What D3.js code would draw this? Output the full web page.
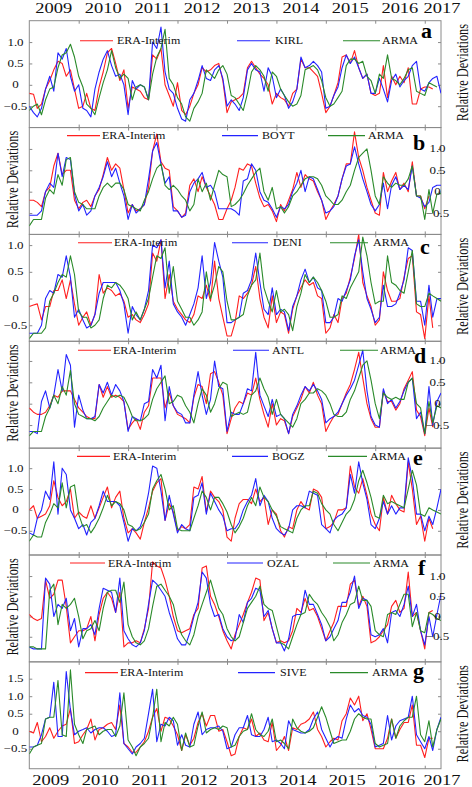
<!DOCTYPE html>
<html><head><meta charset="utf-8">
<script src="https://cdn.jsdelivr.net/npm/d3@7"></script>
<style>body{margin:0;background:#fff}svg{display:block}</style>
</head><body>
<svg id="chart" width="472" height="787"></svg>
<script>
// ---------------- DATA ----------------
const yearLabels = ["2009","2010","2011","2012","2013","2014","2015","2016","2017"];
const stations = ["KIRL","BOYT","DENI","ANTL","BOGZ","OZAL","SIVE"];
const panelLetters = ["a","b","c","d","e","f","g"];
const seriesNames = ["ERA-Interim","station","ARMA"];

const eraA = [-0.20,-0.22,-0.55,-0.45,-0.10,0.10,0.35,0.55,0.50,0.20,0.35,-0.10,
-0.55,-0.50,-0.20,-0.55,-0.60,-0.05,0.30,0.75,0.85,0.50,0.10,0.35,
-0.55,-0.05,-0.10,-0.15,-0.30,-0.35,0.70,0.60,0.85,0.00,-0.25,-0.50,
0.05,-0.60,-0.70,-0.50,-0.20,0.00,0.40,0.30,0.35,0.45,0.50,0.10,
-0.65,-0.40,-0.35,-0.30,-0.20,0.40,0.55,0.40,0.25,0.15,0.00,-0.45,
-0.20,-0.30,-0.35,-0.50,-0.20,-0.10,0.60,0.40,0.40,0.30,0.20,-0.20,
-0.65,-0.50,-0.25,0.05,0.65,0.70,0.50,0.80,0.40,0.15,0.25,-0.20,
-0.25,-0.20,0.45,-0.30,0.20,0.00,0.20,0.05,0.40,-0.45,-0.45,-0.10,
-0.05,-0.05,-0.10];
const kirl = [-0.50,-0.65,-0.75,-0.55,-0.10,0.20,-0.15,0.75,0.60,0.85,0.20,-0.15,
0.00,-0.55,-0.60,-0.75,-0.10,0.30,0.60,0.80,0.45,0.20,0.25,0.00,
-0.70,0.10,-0.10,0.00,-0.05,-0.35,1.00,0.85,1.35,0.30,-0.10,-0.20,
-0.55,-0.80,-0.85,-0.35,-0.20,0.10,0.45,0.15,0.10,0.35,0.45,0.15,
-0.50,-0.35,-0.45,-0.60,-0.30,0.35,0.50,0.35,0.30,-0.15,0.40,0.20,
-0.30,-0.10,-0.25,-0.55,-0.40,-0.10,0.65,0.40,0.45,0.55,0.45,0.30,
-0.55,-0.50,-0.25,-0.05,0.40,0.70,0.50,0.65,0.40,0.15,0.25,-0.20,
-0.20,0.15,-0.10,-0.40,0.10,0.25,-0.05,0.10,0.20,0.45,0.55,-0.10,
-0.15,0.05,0.15,0.20,-0.20];
const armaA = [-0.60,-0.50,-0.45,-0.70,-0.35,-0.10,-0.05,0.40,0.70,0.75,0.95,0.65,
0.20,-0.05,-0.45,-0.55,-0.70,-0.30,0.05,0.35,0.80,0.40,0.15,0.25,
0.15,-0.35,-0.05,0.00,-0.05,-0.35,0.25,0.65,0.85,1.30,0.15,0.00,
-0.30,-0.45,-0.75,-0.85,-0.55,-0.40,-0.20,0.35,0.25,0.15,0.35,0.45,
0.25,-0.25,-0.30,-0.45,-0.60,-0.20,0.30,0.45,0.35,0.20,-0.15,0.30,
0.20,-0.10,-0.25,-0.40,-0.50,-0.45,-0.25,0.35,0.40,0.45,0.35,0.10,
-0.30,-0.50,-0.45,-0.30,-0.15,0.45,0.60,0.60,0.50,0.55,0.20,0.10,
-0.20,0.25,0.15,0.70,0.15,0.10,0.00,0.15,0.35,0.40,-0.15,-0.20,
-0.25,0.05,0.00,-0.05];

const eraB = [-0.20,-0.20,-0.25,-0.35,0.00,0.10,0.60,0.90,0.40,0.50,0.50,-0.20,
-0.40,-0.25,-0.20,-0.35,-0.10,0.05,0.40,0.80,0.50,0.65,0.55,0.05,
-0.50,-0.30,-0.45,-0.40,-0.30,0.10,0.95,1.35,0.70,0.55,0.50,-0.35,
-0.45,-0.60,-0.50,0.15,0.30,0.00,0.35,0.10,-0.10,-0.30,-0.65,-0.65,
-0.40,-0.20,0.10,0.55,0.50,0.65,0.60,0.20,-0.15,-0.35,-0.30,-0.45,
-0.70,-0.30,-0.45,-0.20,0.05,0.45,0.10,0.40,0.30,0.25,0.00,-0.20,
-0.65,-0.45,-0.30,-0.10,0.30,0.65,0.65,1.40,0.80,0.50,0.10,-0.20,
-0.50,-0.55,0.45,0.00,0.25,0.45,0.05,0.20,0.00,0.70,-0.10,-0.10,
-0.40,-0.10];
const boyt = [-0.55,-0.55,-0.55,-0.45,0.00,0.20,0.10,0.90,0.35,0.80,0.75,-0.05,
-0.45,-0.30,-0.55,-0.45,-0.10,0.10,0.35,0.70,0.35,0.55,0.20,-0.10,
-0.65,-0.30,-0.50,-0.40,-0.30,0.30,0.95,1.15,0.65,0.20,0.35,-0.45,
-0.45,-0.60,-0.55,0.00,0.20,0.30,0.45,0.10,0.15,0.00,-0.40,-0.40,
-0.40,-0.40,-0.45,-0.55,0.25,0.30,0.65,0.50,0.00,-0.20,-0.25,-0.40,
-0.60,-0.35,-0.40,-0.30,0.00,0.20,0.50,0.00,0.35,0.30,0.05,-0.20,
-0.50,-0.45,-0.35,-0.10,0.30,0.60,0.65,1.05,0.65,0.30,0.00,-0.30,
-0.45,-0.30,0.20,-0.40,0.15,0.35,0.05,0.15,0.05,0.60,-0.10,-0.15,
-0.35,-0.25,0.10,0.15,0.15];
const armaB = [-0.80,-0.65,-0.65,-0.65,-0.15,0.05,-0.05,0.40,0.15,0.75,0.80,0.00,
-0.25,-0.30,-0.40,-0.40,-0.40,-0.10,0.10,0.20,0.10,0.20,0.20,0.05,
-0.30,-0.35,-0.40,-0.45,-0.20,0.00,0.30,0.55,0.65,0.15,0.05,0.15,
0.05,-0.10,-0.20,-0.45,-0.30,0.30,0.00,0.20,-0.20,0.15,0.50,0.40,
0.35,-0.35,-0.30,-0.20,-0.05,0.15,0.30,0.45,0.55,0.00,-0.20,0.10,
-0.40,-0.35,-0.50,-0.35,-0.10,0.00,0.15,0.30,0.35,0.35,0.30,0.15,
-0.10,-0.20,-0.30,-0.30,-0.20,0.00,0.15,0.50,0.80,0.90,1.00,0.50,
-0.10,-0.30,0.35,0.20,0.10,0.20,0.15,0.15,0.30,0.60,-0.10,-0.10,
-0.65,0.05,-0.50,-0.05,-0.05];

const eraC = [-0.15,-0.12,-0.10,-0.40,-0.15,-0.15,0.15,0.15,0.35,0.00,0.35,-0.10,
-0.50,-0.35,-0.25,-0.50,-0.30,0.45,0.10,0.20,0.15,0.05,0.10,-0.05,
-0.35,-0.30,-0.40,-0.45,-0.30,-0.10,0.85,0.70,1.10,0.00,0.45,-0.05,
-0.20,-0.30,-0.40,-0.45,-0.30,0.05,0.00,0.25,-0.05,0.70,0.00,-0.35,
-0.70,-0.70,-0.45,0.05,0.00,0.10,0.25,0.60,0.00,-0.35,-0.55,0.05,
-0.45,-0.25,-0.30,-0.65,-0.20,0.05,0.20,0.35,0.25,0.30,0.05,0.00,
-0.65,-0.55,-0.30,-0.45,0.00,0.10,0.40,0.75,1.20,0.30,0.05,-0.15,
-0.50,-0.40,0.50,0.15,-0.05,-0.05,0.00,0.40,0.75,0.80,-0.25,-0.30,
-0.75,0.05,-0.55];
const deni = [-0.65,-0.65,-0.65,-0.50,0.00,0.15,0.10,0.45,0.40,0.80,0.40,-0.35,
-0.20,-0.40,-0.55,-0.50,-0.30,0.10,0.30,0.30,0.30,0.30,0.15,-0.10,
-0.65,-0.15,-0.30,-0.40,-0.20,0.15,1.00,0.95,1.10,0.20,0.70,-0.10,
-0.25,-0.35,-0.50,-0.30,-0.10,0.20,0.80,0.00,0.30,1.05,0.70,0.40,
-0.45,-0.45,-0.40,-0.35,0.10,0.15,0.35,0.85,0.30,-0.20,-0.30,0.20,
-0.30,-0.20,-0.25,-0.60,-0.15,0.05,0.35,0.55,0.30,0.40,0.20,0.15,
-0.45,-0.45,-0.35,0.00,-0.05,0.15,0.35,0.80,1.10,0.50,0.00,-0.20,
-0.45,-0.35,0.25,-0.15,-0.15,-0.10,0.10,0.35,0.95,0.90,-0.05,-0.05,
-0.50,0.25,-0.35,0.00,0.00];
const armaC = [-0.75,-0.65,-0.65,-0.65,-0.55,-0.05,0.10,0.30,0.45,0.40,0.80,0.45,
-0.25,-0.35,-0.35,-0.55,-0.50,-0.40,0.00,0.25,0.20,0.30,0.25,0.15,
0.00,-0.40,-0.25,-0.40,-0.20,0.00,0.40,0.80,0.75,0.95,0.10,0.60,
-0.05,-0.20,-0.35,-0.35,-0.50,-0.40,-0.25,0.50,0.00,0.25,0.60,0.50,
-0.05,-0.40,-0.40,-0.35,-0.30,0.05,0.25,0.35,0.85,0.20,-0.05,-0.25,
0.15,-0.25,-0.20,-0.30,-0.60,-0.15,0.10,0.45,0.30,0.40,0.30,0.15,
-0.05,-0.35,-0.35,-0.30,0.05,0.00,0.20,0.35,0.50,1.15,0.80,0.30,
-0.10,-0.05,-0.05,0.80,0.30,0.25,0.15,0.10,0.50,0.90,-0.10,-0.15,
-0.15,0.10,0.05,0.00,-0.05];

const eraD = [-0.10,-0.20,-0.25,-0.25,-0.20,-0.05,0.20,0.15,0.30,0.30,0.30,0.10,
-0.10,-0.20,-0.30,-0.35,-0.35,0.45,0.15,0.40,0.15,0.20,0.15,0.05,
-0.60,-0.45,-0.35,-0.60,-0.20,-0.05,0.60,0.60,0.60,-0.10,0.25,-0.05,
-0.25,-0.30,-0.35,-0.45,0.15,0.45,0.40,0.00,0.70,0.75,0.50,0.20,
-0.70,-0.35,-0.10,0.05,0.00,0.25,0.20,0.60,0.10,-0.25,-0.55,0.00,
-0.50,-0.35,-0.40,-0.70,-0.30,-0.10,0.10,0.40,0.25,0.50,0.20,0.00,
-0.65,-0.45,-0.30,-0.25,0.00,0.25,0.45,0.80,1.20,0.60,0.00,-0.35,
-0.55,-0.55,0.30,0.05,0.05,-0.15,0.00,0.35,0.55,0.75,-0.15,-0.30,
-0.75,-0.10,-0.55];
const antl = [-0.65,-0.65,-0.70,0.05,0.30,-0.10,0.20,0.80,0.30,1.15,0.90,-0.55,
0.20,-0.15,-0.35,-0.35,-0.30,0.45,0.25,0.50,0.20,0.45,0.30,0.05,
-0.65,-0.30,-0.35,-0.40,0.00,0.05,0.80,0.60,0.90,-0.40,0.40,-0.05,
-0.20,-0.25,-0.45,-0.45,0.20,0.75,0.20,-0.25,0.10,1.00,0.40,0.35,
-0.65,-0.20,-0.25,-0.25,0.00,0.35,0.30,1.20,0.20,-0.05,-0.30,0.10,
-0.30,-0.25,-0.35,-0.70,-0.25,-0.05,0.20,0.40,0.30,0.45,0.30,0.10,
-0.45,-0.35,-0.30,-0.20,0.00,0.20,0.35,0.55,0.90,1.25,0.30,-0.30,
-0.50,-0.55,0.35,0.00,0.10,-0.10,0.05,0.30,0.50,0.60,-0.35,-0.20,
-0.70,0.40,-0.50,0.05,0.25];
const armaD = [-0.75,-0.65,-0.65,-0.65,-0.30,-0.10,0.20,0.00,0.40,0.20,0.78,0.00,
-0.25,-0.30,-0.35,-0.35,-0.40,-0.30,-0.10,0.05,0.20,0.15,0.20,0.15,
-0.05,-0.30,-0.40,-0.40,-0.35,-0.25,0.10,0.35,0.50,0.65,0.00,0.05,
0.20,0.15,-0.05,-0.20,-0.45,0.00,0.35,0.20,-0.20,0.00,0.35,0.50,
0.45,-0.30,-0.25,-0.20,-0.25,-0.20,0.20,0.30,0.60,0.35,0.15,-0.25,
0.10,-0.25,-0.35,-0.45,-0.55,-0.35,0.00,0.10,0.25,0.25,0.35,0.30,
0.20,0.00,-0.25,-0.30,-0.30,-0.20,0.10,0.30,0.60,0.90,1.00,0.55,
0.00,-0.35,0.25,0.15,0.10,0.15,0.10,0.10,0.50,0.60,0.00,-0.10,
-0.70,0.05,-0.45,-0.05,-0.10];

const eraE = [0.00,0.10,-0.20,-0.15,-0.10,0.10,0.70,0.30,0.10,0.20,0.50,-0.20,
-0.05,-0.15,-0.20,0.10,-0.20,0.05,0.30,0.55,0.05,0.30,0.45,-0.20,
-0.55,-0.45,-0.55,-0.70,-0.30,0.05,0.45,0.65,0.75,-0.25,0.15,-0.05,
-0.50,-0.40,-0.45,-0.35,0.55,0.50,0.80,-0.05,0.45,0.30,0.20,0.00,
-0.65,-0.75,-0.20,0.15,0.25,0.25,0.15,0.50,0.20,0.30,-0.35,0.00,
-0.10,-0.50,-0.65,-0.40,-0.45,0.00,0.20,0.05,0.00,0.50,0.45,0.30,
-0.45,-0.40,-0.30,0.00,0.00,0.05,1.05,0.55,0.40,0.75,0.35,-0.10,
-0.35,-0.50,0.30,-0.10,0.35,0.15,0.00,-0.05,1.15,0.50,-0.35,-0.15,
-0.75,-0.20,-0.45];
const bogz = [-0.55,-0.60,-0.20,0.00,0.45,0.25,1.15,-0.10,1.00,0.85,0.00,-0.20,
-0.45,-0.35,-0.60,-0.30,-0.20,0.10,0.45,0.20,0.20,0.20,0.10,-0.30,
-0.75,-0.45,-0.50,-0.40,-0.10,0.40,1.05,1.00,0.45,-0.25,0.35,-0.10,
-0.55,-0.35,-0.45,-0.50,0.30,0.35,0.65,-0.10,0.40,0.20,0.00,-0.15,
-0.50,-0.45,-0.45,-0.30,0.00,0.20,0.35,0.75,0.10,0.35,0.20,-0.20,
-0.45,-0.55,-0.60,-0.45,0.00,0.10,0.10,0.05,0.45,0.40,0.35,-0.35,
-0.45,-0.55,-0.25,-0.15,-0.10,0.05,0.85,0.40,1.15,0.65,0.25,-0.35,
-0.45,-0.20,0.20,-0.10,0.10,-0.10,0.05,0.05,1.25,0.75,-0.10,-0.10,
-0.50,-0.15,-0.35,0.05,0.50];
const armaE = [-0.75,-0.60,-0.65,-0.65,-0.30,-0.10,0.15,0.05,0.65,0.05,0.55,0.60,
-0.10,-0.40,-0.35,-0.55,-0.40,-0.20,0.05,0.35,0.10,0.20,0.15,0.00,
-0.35,-0.40,-0.50,-0.45,-0.30,-0.10,0.50,0.70,0.85,0.50,0.00,0.10,
-0.45,-0.50,-0.50,-0.50,-0.20,0.10,0.45,0.30,0.00,0.30,0.30,0.15,
-0.05,-0.35,-0.55,-0.40,-0.20,0.10,0.30,0.10,0.55,0.30,0.20,0.00,
-0.15,-0.40,-0.45,-0.50,-0.55,-0.20,0.00,0.10,0.10,0.45,0.40,0.15,
0.00,-0.10,-0.35,-0.50,-0.30,-0.10,0.00,0.25,0.70,0.95,0.65,0.30,
-0.15,-0.20,0.35,0.15,0.20,0.15,0.10,0.05,0.50,0.95,0.60,-0.10,
-0.15,0.05,0.00,-0.05,-0.10];

const eraF = [0.05,-0.05,-0.10,-0.05,0.90,0.45,0.55,0.90,0.90,0.25,-0.65,-0.50,
-0.35,-0.35,-0.30,0.00,-0.60,0.05,0.45,0.60,0.45,0.10,0.60,-0.75,
-0.65,-0.65,-0.60,-0.65,-0.30,0.20,1.35,1.25,1.20,0.90,0.50,0.00,
-0.35,-0.40,-0.35,-0.30,0.05,0.20,1.20,1.25,0.50,0.30,0.00,-0.35,
-0.60,-0.80,-0.45,-0.20,0.05,0.35,0.60,0.95,0.90,-0.10,0.10,-0.30,
-0.65,-0.60,-0.65,-0.60,-0.35,0.20,0.10,0.45,0.15,0.20,0.00,-0.30,
-0.60,-0.35,-0.15,0.25,0.25,0.25,0.80,0.90,0.25,0.50,0.25,-0.65,
-0.60,-0.50,-0.35,-0.20,0.25,0.40,0.10,0.20,1.10,0.00,0.10,-0.35,
-0.80,0.10,0.15];
const ozal = [-0.75,-0.80,-0.80,-0.80,0.95,0.80,0.00,0.30,0.20,0.45,-0.35,-0.05,
-0.75,-0.30,-0.30,-0.20,-0.45,0.20,0.70,0.65,0.60,0.10,0.95,-0.35,
-0.55,-0.70,-0.75,-0.65,-0.35,0.30,0.90,0.80,0.65,0.50,0.10,-0.20,
-0.55,-0.70,-0.70,-0.40,0.00,0.35,1.10,0.95,0.30,0.00,0.05,-0.30,
-0.50,-0.60,-0.55,0.05,-0.15,0.35,0.45,0.70,0.65,0.00,0.15,-0.30,
-0.65,-0.65,-0.85,-0.55,0.00,0.05,0.05,0.65,0.30,0.30,0.05,-0.20,
-0.60,-0.50,-0.30,-0.10,0.35,0.35,0.60,1.00,0.20,0.45,0.40,-0.45,
-0.50,-0.45,-0.30,-0.65,0.10,0.15,0.00,0.30,0.75,0.00,0.30,-0.35,
-0.70,0.00,-0.50,0.05,0.55];
const armaF = [-0.75,-0.75,-0.80,-0.80,-0.80,0.65,0.80,-0.20,0.30,0.20,0.30,0.45,
0.00,-0.55,-0.35,-0.30,-0.10,-0.35,0.20,0.60,0.65,0.65,0.35,0.85,
-0.20,-0.50,-0.65,-0.70,-0.60,-0.30,0.25,0.75,0.80,0.65,0.50,0.30,
-0.15,-0.45,-0.60,-0.70,-0.45,0.00,0.30,0.60,0.90,0.55,0.20,0.05,
-0.30,-0.50,-0.60,-0.50,-0.15,0.20,0.35,0.50,0.75,0.30,0.20,0.15,
-0.25,-0.65,-0.70,-0.80,-0.50,-0.20,0.05,0.10,0.55,0.40,0.30,0.10,
-0.05,-0.25,-0.60,-0.45,-0.15,0.05,0.30,0.35,0.75,0.40,0.40,0.25,
-0.35,-0.45,-0.50,0.05,0.10,0.05,0.30,0.55,0.55,-0.25,0.10,-0.35,
-0.40,0.10,0.05,-0.05,-0.10];

const eraG = [0.00,-0.05,0.25,-0.30,-0.15,0.10,-0.20,0.00,0.15,0.20,0.65,-0.35,
-0.30,-0.10,0.05,0.35,-0.25,0.05,0.10,0.20,0.25,0.05,0.75,-0.35,
-0.45,-0.60,-0.60,-0.45,-0.30,0.00,0.40,0.65,0.00,0.40,0.35,0.15,
-0.10,-0.55,-0.10,-0.40,-0.20,0.25,0.50,0.15,0.45,0.45,0.00,0.05,
-0.30,-0.70,-0.65,-0.15,0.10,0.05,0.35,-0.15,-0.05,-0.25,-0.30,0.25,
-0.55,-0.40,-0.15,-0.55,0.10,0.05,0.20,0.25,0.35,0.55,0.05,-0.15,
-0.45,-0.30,-0.20,-0.25,0.30,0.50,0.95,0.75,1.00,0.30,0.50,0.05,
-0.50,-0.50,-0.50,-0.20,0.35,-0.20,0.05,0.25,0.25,0.75,-0.40,-0.40,
-0.75,-0.20,-0.20];
const sive = [-0.45,-0.45,-0.40,-0.10,0.35,0.40,1.40,-0.15,-0.15,1.70,0.60,-0.10,
0.00,0.05,0.10,-0.05,0.05,0.10,0.10,0.00,-0.15,-0.10,1.10,-0.35,
-0.50,-0.65,-0.45,-0.35,-0.20,0.50,1.20,-0.30,0.20,0.15,0.40,0.30,
-0.40,-0.10,-0.40,-0.45,0.20,0.55,-0.10,0.05,0.10,0.10,0.15,0.00,
-0.50,-0.45,-0.10,0.10,0.10,0.45,-0.10,-0.15,-0.15,0.05,0.40,-0.30,
-0.25,-0.35,-0.50,0.30,0.05,0.00,-0.05,-0.05,0.05,0.35,0.55,0.05,
-0.20,-0.45,-0.25,-0.15,-0.20,0.35,0.75,0.55,0.65,0.45,0.40,0.20,
-0.45,-0.40,-0.35,0.45,-0.25,0.15,0.30,0.35,0.40,1.00,-0.10,-0.30,
-0.50,-0.15,-0.55,0.05,0.40];
const armaG = [-0.65,-0.45,-0.40,-0.35,0.35,0.40,0.40,1.45,-0.10,-0.15,1.75,0.20,
-0.10,-0.35,0.05,0.10,0.15,-0.10,0.00,0.05,0.05,-0.15,0.15,1.10,
-0.25,-0.45,-0.70,-0.45,-0.35,-0.20,0.40,1.20,-0.30,0.25,0.15,0.40,
0.20,-0.55,-0.05,-0.45,-0.40,0.15,0.55,-0.05,0.05,0.10,0.05,0.15,
0.10,-0.45,-0.40,-0.15,0.00,0.05,0.50,0.05,-0.10,-0.15,0.00,0.35,
-0.30,-0.25,-0.35,-0.50,0.35,0.10,0.00,-0.05,0.00,0.10,0.40,0.70,
0.40,0.00,-0.35,-0.30,-0.25,-0.25,0.00,0.35,0.50,0.40,0.35,0.35,
-0.35,-0.45,-0.40,-0.35,0.35,-0.20,0.15,0.30,0.40,0.40,1.00,-0.10,
-0.30,0.30,-0.45,0.05,0.35];

const yDomains = [[-1,1.5],[-1,1.5],[-0.8,1.2],[-1.04,1.46],[-1.08,1.48],[-1.12,1.52],[-1.07,1.98]];
const yTickValues = [[-0.5,0,0.5,1],[-0.5,0,0.5,1],[-0.5,0,0.5,1],[-0.5,0,0.5,1],[-0.5,0,0.5,1],[-0.5,0,0.5,1],[-0.5,0,0.5,1,1.5]];
const panelSeries = [[eraA,kirl,armaA],[eraB,boyt,armaB],[eraC,deni,armaC],[eraD,antl,armaD],[eraE,bogz,armaE],[eraF,ozal,armaF],[eraG,sive,armaG]];

// ---------------- LAYOUT / STYLE ----------------
const W = 472, H = 787;
const X0 = 29.3, X1 = 441, TOP = 20.7, PH = 106.86;
const FONT = "'Liberation Serif','Times New Roman',Times,serif";
const COLORS = ["#ff1f1f","#2323ff","#2a8a2a"];
const BORDER = "#8a8a8a";
// legend layout per panel: [lineY offset, redX1, redX2, redTx, bX1, bX2, bTx, gX1, gX2, gTx, letterX, letterBase]
const LEG = [
 [20.0, 80,113,117, 237,270,275, 343,380,382, 421,17.3],
 [8.1, 67,100,102, 222,258,262, 328,365,368, 413,22.4],
 [8.3, 78,112,114, 232,268,273, 330,368,373, 420,19.6],
 [9.0, 78,111,113, 233,269,272, 340,378,380, 414,21.4],
 [8.2, 77,110,113, 232,268,272, 328,367,370, 413,16.6],
 [8.0, 70,105,108, 227,263,267, 333,370,373, 418,19.7],
 [10.8,85,118,120, 238,275,280, 330,368,372, 413,16.1]
];

const svg = d3.select("#chart");
svg.append("rect").attr("width",W).attr("height",H).attr("fill","#fff");
const start = new Date(2009,0,1);
const dateOf = i => d3.timeMonth.offset(start, i);
const x = d3.scaleTime().domain([start, dateOf(100)]).range([X0, X1]);
const yearTicks = d3.timeYear.range(new Date(2010,0,1), new Date(2017,0,2));

function stretchedText(parent, txt, tx, ty, size, sx, anchor, opts={}) {
  const t = parent.append("text")
    .attr("transform", `translate(${tx},${ty}) scale(${sx},1)` + (opts.rotate ? ` rotate(${opts.rotate})` : ""))
    .attr("text-anchor", anchor)
    .attr("font-family", FONT)
    .attr("font-size", size)
    .attr("fill", opts.fill || "#111")
    .text(txt);
  if (opts.bold) t.attr("font-weight","bold");
  if (opts.dy) t.attr("dy", opts.dy);
  return t;
}

const defs = svg.append("defs");

panelSeries.forEach((series, k) => {
  const top = TOP + k*PH, bot = top + PH;
  const y = d3.scaleLinear().domain(yDomains[k]).range([bot, top]);
  const g = svg.append("g");
  defs.append("clipPath").attr("id","clip"+k).append("rect")
    .attr("x",X0).attr("y",top).attr("width",X1-X0).attr("height",PH);

  g.append("rect").attr("x",X0).attr("y",top).attr("width",X1-X0).attr("height",PH)
    .attr("fill","none").attr("stroke",BORDER).attr("stroke-width",1);

  const axT = g.append("g").attr("transform",`translate(0,${top})`)
    .call(d3.axisBottom(x).tickValues(yearTicks).tickSize(3).tickSizeOuter(0).tickFormat(""));
  const axB = g.append("g").attr("transform",`translate(0,${bot})`)
    .call(d3.axisTop(x).tickValues(yearTicks).tickSize(3).tickSizeOuter(0).tickFormat(""));
  const axL = g.append("g").attr("transform",`translate(${X0},0)`)
    .call(d3.axisRight(y).tickValues(yTickValues[k]).tickSize(3).tickSizeOuter(0).tickFormat(""));
  const axR = g.append("g").attr("transform",`translate(${X1},0)`)
    .call(d3.axisLeft(y).tickValues(yTickValues[k]).tickSize(3).tickSizeOuter(0).tickFormat(""));
  [axT,axB,axL,axR].forEach(a => { a.select(".domain").remove(); a.selectAll("line").attr("stroke",BORDER); });

  const lineGen = d3.line().x((d,i)=>x(dateOf(i))).y(d=>y(d));
  const lg = g.append("g").attr("clip-path",`url(#clip${k})`);
  series.forEach((s, j) => {
    lg.append("path").datum(s).attr("d", lineGen).attr("fill","none")
      .attr("stroke", COLORS[j]).attr("stroke-width",1.1).attr("stroke-linejoin","round");
  });

  const leftAxis = (k % 2 === 0);
  yTickValues[k].forEach(v => {
    const lab = v === 0 ? "0" : d3.format(".1f")(v);
    stretchedText(g, lab, leftAxis ? 15.5 : 437.5, y(v), 10, 1.3, "middle", {dy:"0.35em"});
  });
  stretchedText(g, "Relative Deviations", leftAxis ? 462 : 12.5, (top+bot)/2 - 1.5, 12.3, 1.33, "middle", {rotate:-90, dy:"0.35em"});

  const L = LEG[k];
  const ly = top + L[0];
  const names = ["ERA-Interim", stations[k], "ARMA"];
  [[L[1],L[2],L[3]],[L[4],L[5],L[6]],[L[7],L[8],L[9]]].forEach((p, j) => {
    g.append("line").attr("x1",p[0]).attr("x2",p[1]).attr("y1",ly).attr("y2",ly)
      .attr("stroke",COLORS[j]).attr("stroke-width",1.1);
    stretchedText(g, names[j], p[2], ly + 3.5, 10, 1.2, "start");
  });
  stretchedText(g, panelLetters[k], L[10], top + L[11], 20, 1.1, "start", {bold:true, fill:"#000"});
});

yearLabels.forEach((yl, i) => {
  const cx = i < 8 ? x(new Date(2009 + i, 6, 1)) : x(dateOf(100)) + 1;
  stretchedText(svg, yl, cx, 13.3, 14, 1.32, "middle");
  stretchedText(svg, yl, cx - (i < 8 ? 3 : 0), 785, 14, 1.32, "middle");
});
</script>
</body></html>
